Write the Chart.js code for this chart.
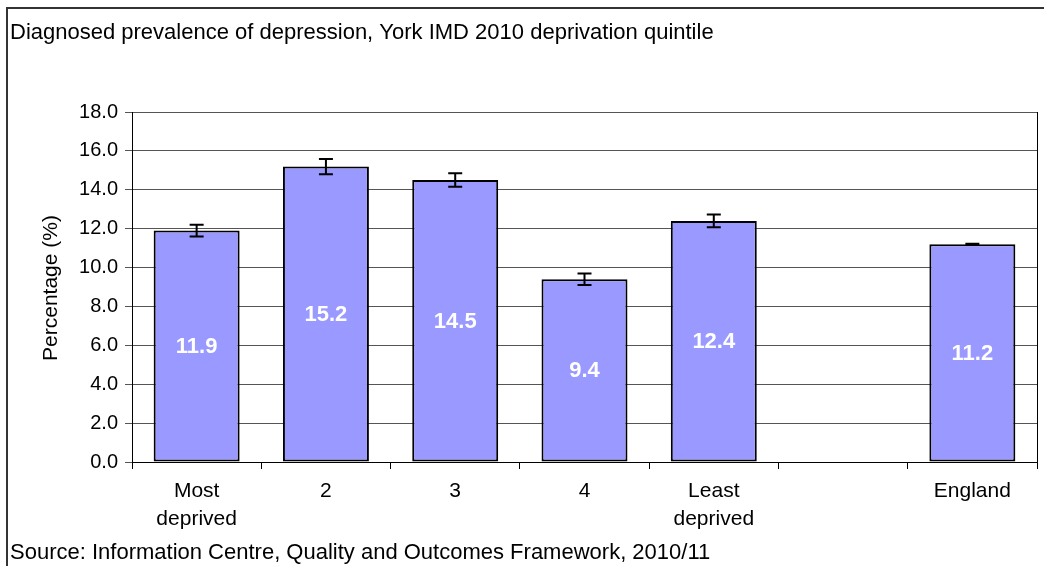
<!DOCTYPE html>
<html>
<head>
<meta charset="utf-8">
<script src="https://cdn.jsdelivr.net/npm/chart.js@4"></script>
<style>
  html, body { margin: 0; padding: 0; background: #fff; }
  #wrap { width: 1044px; height: 566px; position: relative; }
</style>
</head>
<body>
<div id="wrap"><canvas id="chart" width="1044" height="566"></canvas></div>
<script>
// categories (empty slot between quintiles and England)
const categories = [['Most', 'deprived'], '2', '3', '4', ['Least', 'deprived'], '', 'England'];
const prevalence = [11.9, 15.2, 14.5, 9.4, 12.4, null, 11.2];
const lowerCI = [11.6, 14.8, 14.15, 9.1, 12.07, null, 11.18];
const upperCI = [12.2, 15.58, 14.85, 9.7, 12.73, null, 11.22];
const yTicks = [0, 2, 4, 6, 8, 10, 12, 14, 16, 18];

const chartTitle = 'Diagnosed prevalence of depression, York IMD 2010 deprivation quintile';
const sourceNote = 'Source: Information Centre, Quality and Outcomes Framework, 2010/11';
const yTitle = 'Percentage (%)';

const FONT = '"Liberation Sans", Arial, sans-serif';
Chart.defaults.font.family = FONT;
Chart.defaults.font.size = 20;
Chart.defaults.color = '#000';

// frame, texts, error bars and value labels
const decorPlugin = {
    id: 'decor',
    afterDraw(chart) {
        const { ctx, chartArea, scales } = chart;
        ctx.save();

        // outer frame
        ctx.strokeStyle = '#333';
        ctx.lineWidth = 2;
        ctx.strokeRect(7, 8, 1060, 600);

        // plot area right border
        ctx.strokeStyle = '#000';
        ctx.lineWidth = 1;
        ctx.beginPath();
        ctx.moveTo(chartArea.right + 0.5, chartArea.top);
        ctx.lineTo(chartArea.right + 0.5, chartArea.bottom);
        ctx.stroke();

        // titles
        ctx.fillStyle = '#000';
        ctx.font = '22px ' + FONT;
        ctx.textAlign = 'left';
        ctx.textBaseline = 'middle';
        ctx.fillText(chartTitle, 10, 33);
        ctx.fillText(sourceNote, 10, 553);

        ctx.save();
        ctx.font = '21px ' + FONT;
        ctx.translate(51, 288);
        ctx.rotate(-Math.PI / 2);
        ctx.textAlign = 'center';
        ctx.fillText(yTitle, 0, 0);
        ctx.restore();

        // error bars
        const meta = chart.getDatasetMeta(0);
        ctx.strokeStyle = '#000';
        ctx.lineWidth = 2;
        meta.data.forEach((bar, i) => {
            if (prevalence[i] == null) return;
            const x = bar.x;
            const yLo = scales.y.getPixelForValue(lowerCI[i]);
            const yHi = scales.y.getPixelForValue(upperCI[i]);
            ctx.beginPath();
            ctx.moveTo(x, yLo);
            ctx.lineTo(x, yHi);
            ctx.moveTo(x - 7, yLo);
            ctx.lineTo(x + 7, yLo);
            ctx.moveTo(x - 7, yHi);
            ctx.lineTo(x + 7, yHi);
            ctx.stroke();
        });

        // value labels
        ctx.fillStyle = '#fff';
        ctx.font = 'bold 22px ' + FONT;
        ctx.textAlign = 'center';
        ctx.textBaseline = 'middle';
        meta.data.forEach((bar, i) => {
            if (prevalence[i] == null) return;
            const yMid = (bar.y + bar.base) / 2;
            ctx.fillText(prevalence[i].toFixed(1), bar.x, yMid + 1);
        });

        ctx.restore();
    }
};

new Chart(document.getElementById('chart'), {
    type: 'bar',
    data: {
        labels: categories,
        datasets: [{
            data: prevalence,
            backgroundColor: '#9999ff',
            borderColor: '#000',
            borderWidth: 2,
            borderSkipped: false,
            categoryPercentage: 1.0,
            barPercentage: 0.665
        }]
    },
    options: {
        responsive: false,
        animation: false,
        layout: {
            padding: { top: 112, right: 7, left: 0, bottom: 0 }
        },
        plugins: {
            legend: { display: false },
            tooltip: { enabled: false }
        },
        scales: {
            x: {
                grid: {
                    offset: true,
                    drawOnChartArea: false,
                    drawTicks: true,
                    tickLength: 7,
                    color: '#000',
                    lineWidth: 1
                },
                border: { color: '#000', width: 1 },
                ticks: {
                    padding: 8,
                    maxRotation: 0,
                    autoSkip: false,
                    font: { size: 21, lineHeight: 1.33 }
                },
                afterFit(scale) { scale.height = 104; }
            },
            y: {
                min: 0,
                max: 18,
                afterBuildTicks(scale) {
                    scale.ticks = yTicks.map(v => ({ value: v }));
                },
                grid: {
                    color: '#555',
                    lineWidth: 1,
                    tickLength: 7
                },
                border: { color: '#000', width: 1 },
                ticks: {
                    padding: 7,
                    font: { size: 20 },
                    callback: v => v.toFixed(1)
                },
                afterFit(scale) { scale.width = 132; }
            }
        }
    },
    plugins: [decorPlugin]
});
</script>
</body>
</html>
